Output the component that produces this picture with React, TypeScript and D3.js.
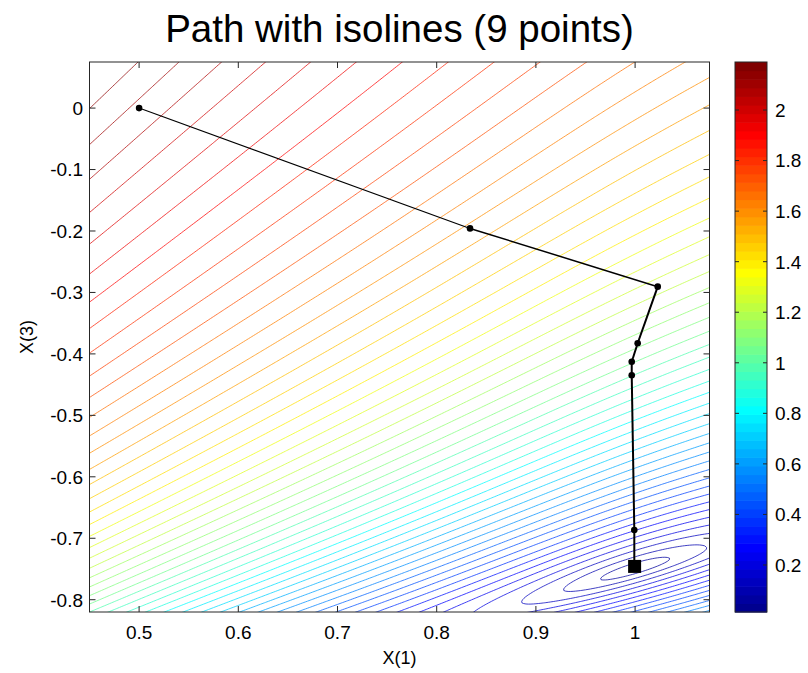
import React, { useMemo } from "react";
import * as d3 from "d3";

// ---- data ----
const xTicks = [0.5, 0.6, 0.7, 0.8, 0.9, 1];
const yTicks = [0, -0.1, -0.2, -0.3, -0.4, -0.5, -0.6, -0.7, -0.8];
const cbTicks = [0.2, 0.4, 0.6, 0.8, 1, 1.2, 1.4, 1.6, 1.8, 2];
const xDomain = [0.45, 1.075];
const yDomain = [-0.82, 0.075];
const colorDomain = [0.014, 2.19];
const levelCount = 50;
// optimisation path (9 points, last one under the square)
const pathX = [0.5, 0.8336, 1.0228, 1.0026, 0.9966, 0.9966, 0.9992, 0.9992, 0.9995];
const pathZ = [0, -0.1958, -0.2906, -0.3827, -0.4127, -0.4348, -0.6866, -0.7452, -0.7458];

// ---- objective surface (estimated shape of the isoline field) ----
const fMin = 0.014;
const minX = 1.0;
const apexX = -0.5;
const apexZ = -1.455;
const valleyT = 0.47;
function objective(x: number, z: number): number {
  const u = x - minX;
  const t = (z - apexZ) / (x - apexX);
  const d = t - valleyT;
  const E = d >= 0 ? 0.6 * d + 1.5 * (1 - Math.exp(-4 * d)) : 8.4 * -d;
  const U = (1.23 * u) / Math.sqrt(1 + (u / 0.25) * (u / 0.25));
  return fMin + Math.sqrt(U * U + E * E);
}

function jet(m: number): number[][] {
  const n = Math.ceil(m / 4);
  const u: number[] = [];
  for (let i = 1; i <= n; i++) u.push(i / n);
  for (let i = 1; i < n; i++) u.push(1);
  for (let i = n; i >= 1; i--) u.push(i / n);
  const off = Math.ceil(n / 2) - (m % 4 === 1 ? 1 : 0);
  const J = Array.from({ length: m }, () => [0, 0, 0]);
  for (let k = 0; k < u.length; k++) {
    const g = off + k + 1;
    const r = g + n;
    const b = g - n;
    if (g >= 1 && g <= m) J[g - 1][1] = u[k];
    if (r >= 1 && r <= m) J[r - 1][0] = u[k];
    if (b >= 1 && b <= m) J[b - 1][2] = u[k];
  }
  return J;
}

const W = 808;
const H = 673;
const PL = 89.5, PR = 709.5, PT = 62, PB = 612;
const CBL = 735, CBR = 767;
const FONT = "'Liberation Sans', Arial, Helvetica, sans-serif";

export default function App() {
  const cmap = useMemo(() => jet(64), []);
  const toColor = (c: number[]) => d3.rgb(c[0] * 255, c[1] * 255, c[2] * 255).formatHex();
  const levelColor = (L: number) => {
    const m = cmap.length;
    let idx = Math.floor(((L - colorDomain[0]) / (colorDomain[1] - colorDomain[0])) * m);
    idx = Math.max(0, Math.min(m - 1, idx));
    return toColor(cmap[idx]);
  };

  const xScale = d3.scaleLinear().domain(xDomain).range([PL, PR]);
  const yScale = d3.scaleLinear().domain(yDomain).range([PB, PT]);
  const cScale = d3.scaleLinear().domain(colorDomain).range([PB, PT]);

  const contourPaths = useMemo(() => {
    const step = 0.0025;
    const gx0 = 0.44, gz0 = -0.83;
    const nx = Math.round((1.085 - gx0) / step) + 1;
    const ny = Math.round((0.085 - gz0) / step) + 1;
    const values = new Array(nx * ny);
    for (let j = 0; j < ny; j++) {
      const z = gz0 + j * step;
      for (let i = 0; i < nx; i++) {
        values[j * nx + i] = objective(gx0 + i * step, z);
      }
    }
    const levels = d3.range(1, levelCount + 1).map(
      (k) => colorDomain[0] + (k * (colorDomain[1] - colorDomain[0])) / (levelCount + 1)
    );
    const cs = d3.contours().size([nx, ny]).thresholds(levels)(values);
    const proj = d3.geoTransform({
      point(px: number, py: number) {
        (this as any).stream.point(
          xScale(gx0 + (px - 0.5) * step),
          yScale(gz0 + (py - 0.5) * step)
        );
      },
    });
    const gp = d3.geoPath(proj as any);
    return cs.map((c: any) => ({ d: gp(c) || "", color: levelColor(c.value) }));
  }, []);

  const pts = pathX.map((x, i) => [xScale(x), yScale(pathZ[i])]);
  const segWidths = pts.slice(1).map((_, i) => (i === 0 ? 1.1 : i === 1 ? 1.5 : 2));
  const last = pts[pts.length - 1];

  const bandH = (PB - PT) / cmap.length;

  return (
    <svg
      width={W}
      height={H}
      viewBox={`0 0 ${W} ${H}`}
      style={{ position: "absolute", left: 0, top: 0, background: "#fff" }}
      fontFamily={FONT}
    >
      <rect x={0} y={0} width={W} height={H} fill="#fff" />
      <defs>
        <clipPath id="plotClip">
          <rect x={PL} y={PT} width={PR - PL} height={PB - PT} />
        </clipPath>
      </defs>
      <text x={(PL + PR) / 2} y={42} fontSize={38.5} textAnchor="middle" fill="#000">
        Path with isolines (9 points)
      </text>

      <g clipPath="url(#plotClip)">
        {contourPaths.map((c, i) => (
          <path
            key={i}
            d={c.d}
            fill="none"
            stroke={c.color}
            strokeOpacity={0.75}
            strokeWidth={1}
          />
        ))}
        {pts.slice(1).map((p, i) => (
          <line
            key={"s" + i}
            x1={pts[i][0]}
            y1={pts[i][1]}
            x2={p[0]}
            y2={p[1]}
            stroke="#000"
            strokeWidth={segWidths[i]}
          />
        ))}
        {pts.slice(0, -1).map((p, i) => (
          <circle key={"c" + i} cx={p[0]} cy={p[1]} r={3.3} fill="#000" />
        ))}
        <rect x={last[0] - 6.5} y={last[1] - 6.5} width={13} height={13} fill="#000" />
      </g>

      {/* axes box and ticks */}
      <rect x={PL} y={PT} width={PR - PL} height={PB - PT} fill="none" stroke="#262626" strokeWidth={1} />
      {xTicks.map((t) => (
        <g key={"xt" + t}>
          <line x1={xScale(t)} x2={xScale(t)} y1={PB} y2={PB - 6} stroke="#262626" />
          <line x1={xScale(t)} x2={xScale(t)} y1={PT} y2={PT + 6} stroke="#262626" />
          <text x={xScale(t)} y={639} fontSize={19} textAnchor="middle" fill="#000">
            {String(t)}
          </text>
        </g>
      ))}
      {yTicks.map((t) => (
        <g key={"yt" + t}>
          <line x1={PL} x2={PL + 6} y1={yScale(t)} y2={yScale(t)} stroke="#262626" />
          <line x1={PR} x2={PR - 6} y1={yScale(t)} y2={yScale(t)} stroke="#262626" />
          <text x={83} y={yScale(t)} dy="0.36em" fontSize={19} textAnchor="end" fill="#000">
            {String(t)}
          </text>
        </g>
      ))}
      <text x={(PL + PR) / 2} y={664} fontSize={18} textAnchor="middle" fill="#000">
        X(1)
      </text>
      <text
        transform={`translate(33, ${(PT + PB) / 2}) rotate(-90)`}
        fontSize={18}
        textAnchor="middle"
        fill="#000"
      >
        X(3)
      </text>

      {/* colorbar */}
      {cmap.map((c, i) => (
        <rect
          key={"cb" + i}
          x={CBL}
          y={PB - (i + 1) * bandH}
          width={CBR - CBL}
          height={bandH + 0.6}
          fill={toColor(c)}
        />
      ))}
      <rect x={CBL} y={PT} width={CBR - CBL} height={PB - PT} fill="none" stroke="#262626" strokeWidth={1} />
      {cbTicks.map((t) => (
        <g key={"cbt" + t}>
          <line x1={CBL} x2={CBL + 4} y1={cScale(t)} y2={cScale(t)} stroke="#262626" />
          <line x1={CBR} x2={CBR - 4} y1={cScale(t)} y2={cScale(t)} stroke="#262626" />
          <text x={775} y={cScale(t)} dy="0.36em" fontSize={19} fill="#000">
            {String(t)}
          </text>
        </g>
      ))}
    </svg>
  );
}
